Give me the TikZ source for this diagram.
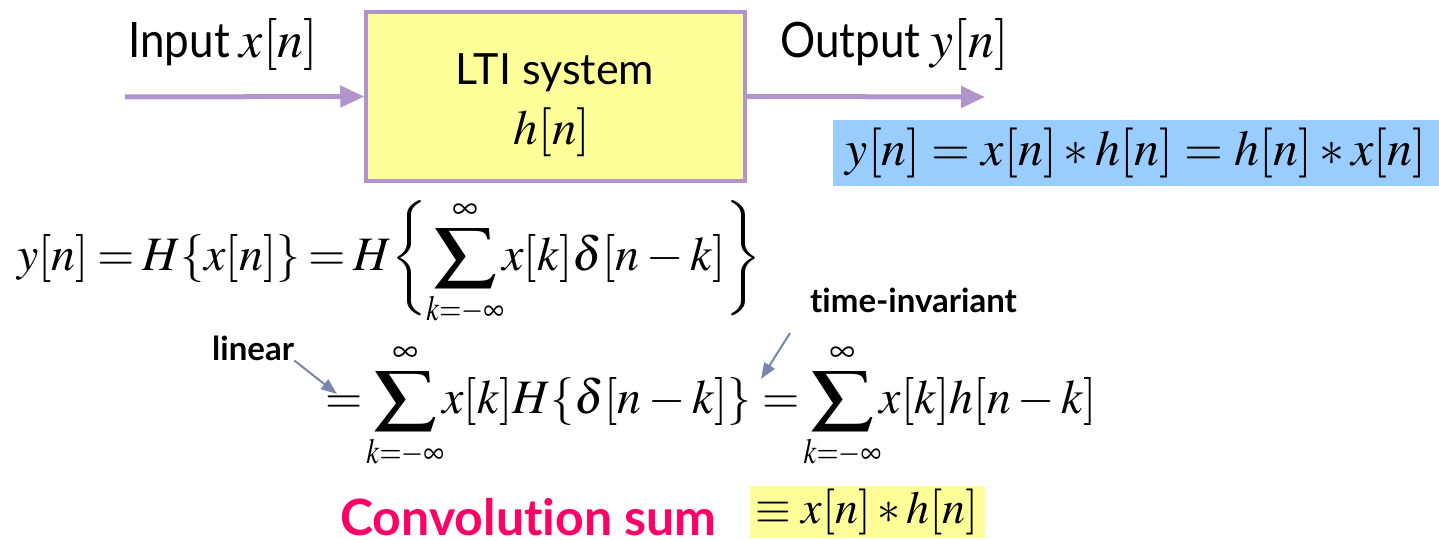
\documentclass[tikz,border=0pt]{standalone}
\usepackage{mathptmx}
\usepackage{mathtools}
\usepackage{graphicx}
\usepackage{fontspec}
\setmainfont{Lato}[Ligatures={NoCommon}]
\usetikzlibrary{arrows.meta}
\definecolor{lav}{HTML}{B294CC}
\definecolor{boxyellow}{HTML}{FFFF99}
\definecolor{eqblue}{HTML}{99CCFF}
\definecolor{annot}{HTML}{7A85AE}
\definecolor{convred}{HTML}{FF0066}
\newcommand{\stretchtxt}[1]{\scalebox{1.1}[1.22]{#1}}
\newcommand{\sumk}{\mathop{\scalebox{1.3}[1]{$\displaystyle\sum$}}\limits_{\mathclap{\scalebox{0.8}[1]{$\scriptstyle k=-\infty$}}}^{\infty}}
\tikzset{
  flow/.style={draw=lav, line width=5pt, -{Triangle[length=24pt,width=21pt]}},
  sysbox/.style={draw=lav, line width=3.5pt, fill=boxyellow, minimum width=379pt, minimum height=169pt},
  lbl/.style={font=\fontsize{40}{48}\selectfont, inner sep=0pt},
  systext/.style={font=\fontsize{43}{50}\selectfont, inner sep=0pt},
  eq/.style={font=\fontsize{48}{56}\selectfont, inner sep=0pt},
  ann/.style={font=\bfseries\fontsize{33}{38}\selectfont, inner sep=0pt},
  annarrow/.style={draw=annot, line width=2pt, -{Triangle[length=16pt,width=12pt]}},
}
\begin{document}
\begin{tikzpicture}[x=1pt,y=-1pt]
\useasboundingbox (0,0) rectangle (1439,540);
% system block
\node[sysbox] (sys) at (555.5,96.5) {};
\node[systext, anchor=base] (systitle) at (555,85) {LTI system};
\node[font=\fontsize{49}{56}\selectfont, inner sep=0pt, anchor=base] (sysh) at (552,145) {$h[n]$};
\coordinate (in) at (125,97);
\coordinate (out) at (985,97);
\draw[flow] (in) -- (sys.west);
\draw[flow] (sys.east) -- (out);
\node[lbl, anchor=base west] (inlbl) at (128,58) {\stretchtxt{Input} {\fontsize{52}{60}\selectfont$x[n]$}};
\node[lbl, anchor=base west] (outlbl) at (780,58) {\stretchtxt{Output} {\fontsize{52}{60}\selectfont$y[n]$}};
% blue equation
\node[font=\fontsize{50}{56}\selectfont, inner sep=0pt, fill=eqblue, minimum width=606pt, minimum height=66pt] (commute) at (1136,153) {\raisebox{-6pt}{$y[n]=x[n]*h[n]=h[n]*x[n]$}};
% first equation
\node[eq, anchor=base west] (eqa) at (17,270) {$\thickmuskip=3mu\displaystyle y[n]=H\{x[n]\}=H\bigg\{\sumk x[k]\delta[n-k]\bigg\}$};
% second equation
\node[eq, anchor=base west] (eqb) at (325,413) {$\thickmuskip=4mu\displaystyle =\sumk x[k]H\{\delta[n-k]\}=\sumk x[k]h[n-k]$};
% annotations
\node[ann, anchor=base west] (lin) at (212,360) {linear};
\coordinate (linend) at (337,394);
\draw[annarrow] (lin.south east) -- (linend);
\node[ann, anchor=base west] (ti) at (810,312) {time-invariant};
\coordinate (tistart) at (790,333);
\coordinate (tiend) at (761,379);
\draw[annarrow] (tistart) -- (tiend);
% convolution sum
\node[font=\bfseries\fontsize{50}{56}\selectfont, text=convred, inner sep=0pt, anchor=base west] (conv) at (340,535) {Convolution sum};
\node[font=\fontsize{46}{52}\selectfont, inner sep=0pt, fill=boxyellow, minimum width=235pt, minimum height=52pt] (convdef) at (867,512) {\raisebox{-4pt}{$\equiv x[n]*h[n]$}};
\end{tikzpicture}
\end{document}
